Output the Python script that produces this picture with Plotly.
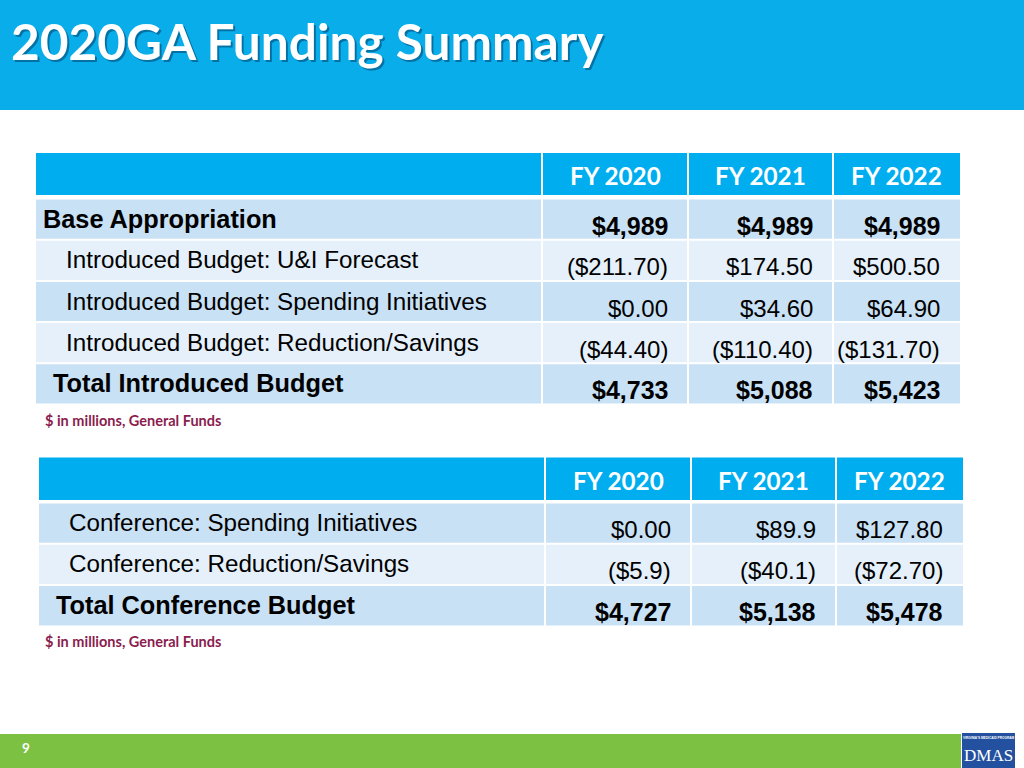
import plotly.graph_objects as go

# ---------------- data ----------------
title_text = "2020GA Funding Summary"
fy_headers = ["FY 2020", "FY 2021", "FY 2022"]

t1_labels = ["Base Appropriation",
             "Introduced Budget: U&I Forecast",
             "Introduced Budget: Spending Initiatives",
             "Introduced Budget: Reduction/Savings",
             "Total Introduced Budget"]
t1_fy2020 = ["$4,989", "($211.70)", "$0.00", "($44.40)", "$4,733"]
t1_fy2021 = ["$4,989", "$174.50", "$34.60", "($110.40)", "$5,088"]
t1_fy2022 = ["$4,989", "$500.50", "$64.90", "($131.70)", "$5,423"]

t2_labels = ["Conference: Spending Initiatives",
             "Conference: Reduction/Savings",
             "Total Conference Budget"]
t2_fy2020 = ["$0.00", "($5.9)", "$4,727"]
t2_fy2021 = ["$89.9", "($40.1)", "$5,138"]
t2_fy2022 = ["$127.80", "($72.70)", "$5,478"]

footnote = "$ in millions, General Funds"
page_number = "9"

# ---------------- styles ----------------
BLUE = "#00AEEF"
TITLE_BLUE = "#08ADEA"
DARK_ROW = "#C9E1F5"
LIGHT_ROW = "#E5F0FA"
GREEN = "#7DC142"
MAROON = "#8A1D4E"
ARIAL = "Liberation Sans, Arial, sans-serif"
CALIBRI = "Lato, Carlito, Calibri, sans-serif"

t1_kinds = ["base", "item", "item", "item", "total"]
t2_kinds = ["item", "item", "total"]
t1_fills = [DARK_ROW, LIGHT_ROW, DARK_ROW, LIGHT_ROW, DARK_ROW]
t2_fills = [DARK_ROW, LIGHT_ROW, DARK_ROW]

fig = go.Figure()
shapes = []
annos = []


def rect(x0, y0, x1, y1, color):
    shapes.append(dict(type="rect", xref="x", yref="y", x0=x0, y0=y0, x1=x1, y1=y1,
                       fillcolor=color, line=dict(width=0), layer="below"))


def text(x, y, s, size, color, family, bold=False, xanchor="left"):
    annos.append(dict(x=x, y=y, xref="x", yref="y", text=(f"<b>{s}</b>" if bold else s),
                      showarrow=False, xanchor=xanchor, yanchor="middle",
                      font=dict(size=size, color=color, family=family)))


def draw_table(col_edges, head_y0, head_y1, row_top, row_h, labels, cols, kinds, fills):
    gap = 1.0
    for i in range(len(col_edges) - 1):
        rect(col_edges[i] + (gap if i > 0 else 0), head_y0,
             col_edges[i + 1] - (gap if i < len(col_edges) - 2 else 0), head_y1, BLUE)
    for j, h in enumerate(fy_headers):
        cx = (col_edges[j + 1] + col_edges[j + 2]) / 2
        text(cx, (head_y0 + head_y1) / 2 + 1.5, h, 24.3, "white", CALIBRI, bold=True, xanchor="center")
    x_left = col_edges[0]
    for r, lab in enumerate(labels):
        y0 = row_top + r * row_h
        y1 = y0 + row_h
        for i in range(len(col_edges) - 1):
            rect(col_edges[i] + (gap if i > 0 else 0), y0 + gap,
                 col_edges[i + 1] - (gap if i < len(col_edges) - 2 else 0), y1 - gap, fills[r])
        cy = (y0 + y1) / 2
        kind = kinds[r]
        if kind == "base":
            text(x_left + 5, cy - 0.5, lab, 25.3, "black", ARIAL, bold=True)
        elif kind == "total":
            text(x_left + 15, cy - 0.5, lab, 25.3, "black", ARIAL, bold=True)
        else:
            text(x_left + 28, cy - 0.5, lab, 24.2, "black", ARIAL)
        bold = kind in ("base", "total")
        for j, colvals in enumerate(cols):
            text(col_edges[j + 2] - 18, cy + 6.5, colvals[r], 25 if bold else 24,
                 "black", ARIAL, bold=bold, xanchor="right")


# title bar
rect(0, 0, 1024, 110, TITLE_BLUE)
text(10.5, 43, title_text, 49.6, "rgba(0,40,80,0.45)", CALIBRI, bold=True)
text(8.5, 41, title_text, 49.6, "white", CALIBRI, bold=True)

# table 1
draw_table([36, 542, 688, 833, 960], 153, 195, 198.5, 41.2,
           t1_labels, [t1_fy2020, t1_fy2021, t1_fy2022], t1_kinds, t1_fills)
text(43, 420, footnote, 14.5, MAROON, CALIBRI, bold=True)

# table 2
draw_table([39, 545, 691, 836, 963], 457.5, 500, 502.5, 41.3,
           t2_labels, [t2_fy2020, t2_fy2021, t2_fy2022], t2_kinds, t2_fills)
text(43, 641, footnote, 14.5, MAROON, CALIBRI, bold=True)

# footer
rect(0, 734, 961, 768, GREEN)
text(20, 748, page_number, 13.5, "white", CALIBRI, bold=True)
rect(962, 733, 1015, 768, "#23519F")
text(988.5, 738, "VIRGINIA'S MEDICAID PROGRAM", 3.2, "white", ARIAL, bold=True, xanchor="center")
text(988.5, 755, "DMAS", 17, "white", "Liberation Serif, serif", xanchor="center")

fig.update_layout(
    width=1024, height=768,
    margin=dict(l=0, r=0, t=0, b=0),
    paper_bgcolor="white", plot_bgcolor="white",
    xaxis=dict(range=[0, 1024], visible=False, fixedrange=True),
    yaxis=dict(range=[768, 0], visible=False, fixedrange=True),
    shapes=shapes, annotations=annos, showlegend=False,
)
fig.write_html("out.html", config={"displayModeBar": False},
               post_script="document.body.style.margin='0';document.body.style.overflow='hidden';")
